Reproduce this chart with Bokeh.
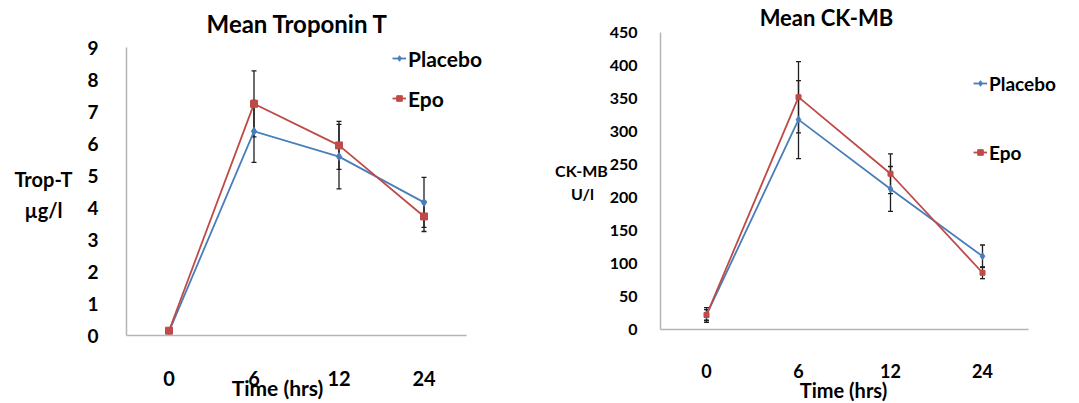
from bokeh.plotting import figure
from bokeh.models import (Range1d, FixedTicker, Label, Legend, LegendItem,
                          ColumnDataSource, Whisker, TeeHead)
from bokeh.layouts import row
from bokeh.embed import file_html
from bokeh.resources import INLINE

# ---- data ----
times = ["0", "6", "12", "24"]

trop_placebo = [0.12, 6.38, 5.59, 4.16]
trop_placebo_err = [0.05, 0.97, 1.01, 0.78]
trop_epo = [0.15, 7.24, 5.94, 3.72]
trop_epo_err = [0.05, 1.03, 0.75, 0.47]

ck_placebo = [22, 318, 213, 111]
ck_placebo_err = [11, 59, 34, 17]
ck_epo = [22, 352, 236, 86]
ck_epo_err = [8, 54, 30, 9]

BLUE = "#4A7EBB"
RED = "#BE4B48"
AXIS = "#B5B5B5"
ERR = "#1E1E1E"
FONT = "Lato"
H = 403


def make_chart(cfg):
    W = cfg["width"]
    # frame covers whole figure; axes are pinned with fixed_location
    ax_l, ax_r, ax_t, ax_b = cfg["axis_px"]      # pixel box of the axes
    n = len(times)
    xpx = (ax_r - ax_l) / n                       # pixels per category
    ypx = (ax_b - ax_t) / cfg["ymax"]             # pixels per y unit
    x0 = -0.5 - ax_l / xpx
    x1 = n - 0.5 + (W - ax_r) / xpx
    y0 = -(H - ax_b) / ypx
    y1 = cfg["ymax"] + ax_t / ypx

    p = figure(width=W, height=H, x_range=Range1d(x0, x1), y_range=Range1d(y0, y1),
               output_backend="svg", toolbar_location=None,
               min_border_left=0, min_border_right=0, min_border_top=0, min_border_bottom=0)
    p.outline_line_color = None
    p.xgrid.visible = False
    p.ygrid.visible = False

    xs = list(range(n))
    p.xaxis.fixed_location = 0
    p.xaxis.bounds = (-0.5, n - 0.5)
    p.xaxis.ticker = FixedTicker(ticks=xs)
    p.xaxis.major_label_overrides = {i: t for i, t in zip(xs, times)}
    p.yaxis.fixed_location = -0.5
    p.yaxis.bounds = (0, cfg["ymax"])
    p.yaxis.ticker = FixedTicker(ticks=cfg["yticks"])

    for ax in (p.xaxis[0], p.yaxis[0]):
        ax.axis_line_color = AXIS
        ax.axis_line_width = 1.5
        ax.major_tick_line_color = None
        ax.minor_tick_line_color = None
        ax.major_label_text_font = FONT
        ax.major_label_text_font_style = "bold"
        ax.major_label_text_color = "black"
    p.yaxis.major_label_text_font_size = cfg["ytick_fs"]
    p.xaxis.major_label_text_font_size = cfg["xtick_fs"]
    p.yaxis.major_label_standoff = cfg["ystand"]
    p.xaxis.major_label_standoff = cfg["xstand"]

    def src(vals, errs):
        return ColumnDataSource(dict(x=xs, y=vals,
                                     lo=[a - b for a, b in zip(vals, errs)],
                                     hi=[a + b for a, b in zip(vals, errs)]))

    src_p = src(cfg["pl"], cfg["ple"])
    src_e = src(cfg["ep"], cfg["epe"])

    lp = p.line("x", "y", source=src_p, line_color=BLUE, line_width=1.8)
    le = p.line("x", "y", source=src_e, line_color=RED, line_width=1.8)

    for s in (src_p, src_e):
        p.add_layout(Whisker(base="x", upper="hi", lower="lo", source=s,
                             line_color=ERR, line_width=1.3,
                             upper_head=TeeHead(size=5, line_color=ERR, line_width=1.3),
                             lower_head=TeeHead(size=5, line_color=ERR, line_width=1.3)))

    mp = p.scatter("x", "y", source=src_p, marker="diamond", size=cfg["dsize"],
                   fill_color=BLUE, line_color=BLUE)
    me = p.scatter("x", "y", source=src_e, marker="square", size=cfg["ssize"],
                   fill_color=RED, line_color=RED)

    for label, rends, (lx, ly) in (("Placebo", [lp, mp], cfg["leg_p"]),
                                   ("Epo", [le, me], cfg["leg_e"])):
        p.add_layout(Legend(items=[LegendItem(label=label, renderers=rends)],
                            location=(lx, H - ly - 15), padding=0, margin=0,
                            label_height=30, glyph_height=30, glyph_width=14,
                            label_standoff=2, border_line_color=None,
                            background_fill_alpha=0,
                            label_text_font=FONT, label_text_font_style="bold",
                            label_text_font_size=cfg["leg_fs"], label_text_color="black"))

    for txt, x, y, fs in cfg["labels"]:
        p.add_layout(Label(x=x, y=H - y, x_units="screen", y_units="screen", text=txt,
                           text_font=FONT, text_font_style="bold", text_font_size=fs,
                           text_align="center", text_baseline="middle", text_color="black"))
    return p


left = dict(width=540, axis_px=(126, 466, 47, 335), ymax=9, yticks=list(range(10)),
            ytick_fs="19px", xtick_fs="20px", ystand=22, xstand=29,
            pl=trop_placebo, ple=trop_placebo_err, ep=trop_epo, epe=trop_epo_err,
            dsize=8, ssize=7, leg_p=(392, 58), leg_e=(392, 98), leg_fs="21px",
            labels=[("Mean Troponin T", 297, 23, "24px"),
                    ("Trop-T", 43, 178, "20px"),
                    ("µg/l", 43, 209, "20px"),
                    ("Time (hrs)", 277, 387, "21px")])

right = dict(width=539, axis_px=(120, 488, 32, 329), ymax=450, yticks=list(range(0, 451, 50)),
             ytick_fs="16px", xtick_fs="18px", ystand=17, xstand=28,
             pl=ck_placebo, ple=ck_placebo_err, ep=ck_epo, epe=ck_epo_err,
             dsize=7, ssize=5, leg_p=(433, 83), leg_e=(433, 152), leg_fs="19px",
             labels=[("Mean CK-MB", 286, 17, "22px"),
                     ("CK-MB", 41, 170, "16px"),
                     ("U/l", 42, 193, "16px"),
                     ("Time (hrs)", 303, 389, "20px")])

p = row(make_chart(left), make_chart(right))

open("out.html", "w").write(file_html(p, INLINE))
